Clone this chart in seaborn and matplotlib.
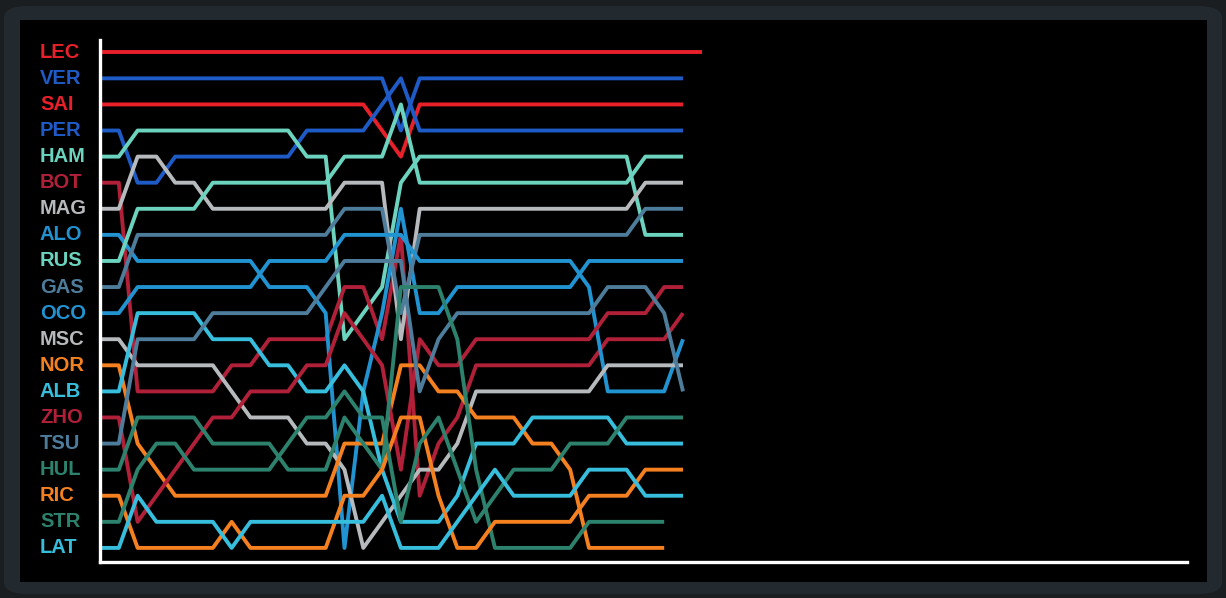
import numpy as np
import pandas as pd
import matplotlib
matplotlib.use('Agg')
import matplotlib.pyplot as plt
import matplotlib.transforms as mtransforms
from matplotlib.patches import FancyBboxPatch, Rectangle
import seaborn as sns

# grid order (start positions) and team colours
drivers = ['LEC', 'VER', 'SAI', 'PER', 'HAM', 'BOT', 'MAG', 'ALO', 'RUS', 'GAS',
           'OCO', 'MSC', 'NOR', 'ALB', 'ZHO', 'TSU', 'HUL', 'RIC', 'STR', 'LAT']
colors = {'LEC': '#E8202A', 'SAI': '#E8202A',
          'VER': '#1E5BC6', 'PER': '#1E5BC6',
          'HAM': '#6CD3BF', 'RUS': '#6CD3BF',
          'BOT': '#B12039', 'ZHO': '#B12039',
          'MAG': '#B6BABD', 'MSC': '#B6BABD',
          'ALO': '#2293D1', 'OCO': '#2293D1',
          'GAS': '#4E7C9B', 'TSU': '#4E7C9B',
          'NOR': '#F58020', 'RIC': '#F58020',
          'ALB': '#37BEDD', 'LAT': '#37BEDD',
          'HUL': '#2D826D', 'STR': '#2D826D'}

# position per lap (lap 0 = grid)
LEC = [1, 1, 1, 1, 1, 1, 1, 1, 1, 1, 1, 1, 1, 1, 1, 1, 1, 1, 1, 1, 1, 1, 1, 1, 1, 1, 1, 1, 1, 1, 1, 1, 1]
VER = [2, 2, 2, 2, 2, 2, 2, 2, 2, 2, 2, 2, 2, 2, 2, 2, 4, 2, 2, 2, 2, 2, 2, 2, 2, 2, 2, 2, 2, 2, 2, 2]
SAI = [3, 3, 3, 3, 3, 3, 3, 3, 3, 3, 3, 3, 3, 3, 3, 4, 5, 3, 3, 3, 3, 3, 3, 3, 3, 3, 3, 3, 3, 3, 3, 3]
PER = [4, 4, 6, 6, 5, 5, 5, 5, 5, 5, 5, 4, 4, 4, 4, 3, 2, 4, 4, 4, 4, 4, 4, 4, 4, 4, 4, 4, 4, 4, 4, 4]
HAM = [5, 5, 4, 4, 4, 4, 4, 4, 4, 4, 4, 5, 5, 12, 11, 10, 6, 5, 5, 5, 5, 5, 5, 5, 5, 5, 5, 5, 5, 8, 8, 8]
BOT = [6, 6, 14, 14, 14, 14, 14, 13, 13, 12, 12, 12, 12, 10, 10, 12, 8, 18, 16, 15, 13, 13, 13, 13, 13, 13, 13, 12, 12, 12, 12, 11]
MAG = [7, 7, 5, 5, 6, 6, 7, 7, 7, 7, 7, 7, 7, 6, 6, 6, 12, 7, 7, 7, 7, 7, 7, 7, 7, 7, 7, 7, 7, 6, 6, 6]
ALO = [8, 8, 9, 9, 9, 9, 9, 9, 9, 10, 10, 10, 11, 20, 14, 11, 7, 11, 11, 10, 10, 10, 10, 10, 10, 10, 9, 9, 9, 9, 9, 9]
RUS = [9, 9, 7, 7, 7, 7, 6, 6, 6, 6, 6, 6, 6, 5, 5, 5, 3, 6, 6, 6, 6, 6, 6, 6, 6, 6, 6, 6, 6, 5, 5, 5]
GAS = [10, 10, 8, 8, 8, 8, 8, 8, 8, 8, 8, 8, 8, 7, 7, 7, 11, 8, 8, 8, 8, 8, 8, 8, 8, 8, 8, 8, 8, 7, 7, 7]
OCO = [11, 11, 10, 10, 10, 10, 10, 10, 10, 9, 9, 9, 9, 8, 8, 8, 8, 9, 9, 9, 9, 9, 9, 9, 9, 9, 10, 14, 14, 14, 14, 12]
MSC = [12, 12, 13, 13, 13, 13, 13, 14, 15, 15, 15, 16, 16, 17, 20, 19, 18, 17, 17, 16, 14, 14, 14, 14, 14, 14, 14, 13, 13, 13, 13, 13]
NOR = [13, 13, 16, 17, 18, 18, 18, 18, 18, 18, 18, 18, 18, 16, 16, 16, 13, 13, 14, 14, 15, 15, 15, 16, 16, 17, 20, 20, 20, 20, 20]
ALB = [14, 14, 11, 11, 11, 11, 12, 12, 12, 13, 13, 14, 14, 13, 14, 17, 19, 19, 19, 18, 16, 16, 16, 15, 15, 15, 15, 15, 16, 16, 16, 16]
ZHO = [15, 15, 19, 18, 17, 16, 15, 15, 14, 14, 14, 13, 13, 11, 12, 13, 17, 12, 13, 13, 12, 12, 12, 12, 12, 12, 12, 11, 11, 11, 10, 10]
TSU = [16, 16, 12, 12, 12, 12, 11, 11, 11, 11, 11, 11, 10, 9, 9, 9, 9, 14, 12, 11, 11, 11, 11, 11, 11, 11, 11, 10, 10, 10, 11, 14]
HUL = [17, 17, 15, 15, 15, 15, 16, 16, 16, 16, 17, 17, 17, 15, 16, 17, 10, 10, 10, 12, 17, 20, 20, 20, 20, 20, 19, 19, 19, 19, 19]
RIC = [18, 18, 20, 20, 20, 20, 20, 19, 20, 20, 20, 20, 20, 18, 18, 17, 15, 15, 18, 20, 20, 19, 19, 19, 19, 19, 18, 18, 18, 17, 17, 17]
STR = [19, 19, 17, 16, 16, 17, 17, 17, 17, 17, 16, 15, 15, 14, 15, 15, 19, 16, 15, 17, 19, 18, 17, 17, 17, 16, 16, 16, 15, 15, 15, 15]
LAT = [20, 20, 18, 19, 19, 19, 19, 20, 19, 19, 19, 19, 19, 19, 19, 18, 20, 20, 20, 19, 18, 17, 18, 18, 18, 18, 17, 17, 17, 18, 18, 18]

series = {'LEC': LEC, 'VER': VER, 'SAI': SAI, 'PER': PER, 'HAM': HAM, 'BOT': BOT,
          'MAG': MAG, 'ALO': ALO, 'RUS': RUS, 'GAS': GAS, 'OCO': OCO, 'MSC': MSC,
          'NOR': NOR, 'ALB': ALB, 'ZHO': ZHO, 'TSU': TSU, 'HUL': HUL, 'RIC': RIC,
          'STR': STR, 'LAT': LAT}

rows = []
for d in drivers:
    for lap, pos in enumerate(series[d]):
        rows.append((d, lap, pos))
df = pd.DataFrame(rows, columns=['driver', 'lap', 'position'])

sns.set_theme(style='dark')
plt.rcParams['font.family'] = ['Liberation Sans', 'DejaVu Sans']

W, H = 1226, 598
fig = plt.figure(figsize=(W / 100, H / 100), dpi=100, facecolor='#1a1e21')

# rounded frame and black panel, kept below the axes
fig.patches.append(FancyBboxPatch((4 / W, 4 / H), 1218 / W, 588 / H,
                                  boxstyle='round,pad=0,rounding_size=0.02',
                                  transform=fig.transFigure, facecolor='#222a30',
                                  edgecolor='none', zorder=-2))
fig.patches.append(Rectangle((20 / W, 16 / H), 1187 / W, 562 / H,
                             transform=fig.transFigure, facecolor='black',
                             edgecolor='none', zorder=-1))

ax = fig.add_axes([100 / W, 36 / H, 1087 / W, 522 / H])
ax.set_zorder(5)
ax.patch.set_alpha(0)

sns.lineplot(data=df, x='lap', y='position', hue='driver', hue_order=drivers,
             palette=colors, linewidth=2.8, legend=False, sort=False,
             estimator=None, ax=ax)
for line in ax.get_lines():
    line.set_solid_joinstyle('round')
    line.set_solid_capstyle('butt')

ax.set_xlim(0, 57.8)
ax.set_ylim(20.54, 0.53)
ax.set_xticks([])
ax.set_yticks([])
ax.set_xlabel('')
ax.set_ylabel('')
ax.grid(False)
for side in ['top', 'right']:
    ax.spines[side].set_visible(False)
for side in ['left', 'bottom']:
    ax.spines[side].set_visible(True)
    ax.spines[side].set_color('white')
    ax.spines[side].set_linewidth(2.4)

# driver codes at grid positions
trans = mtransforms.blended_transform_factory(fig.transFigure, ax.transData)
for d in drivers:
    ax.text(40 / W, series[d][0], d, transform=trans, ha='left', va='center',
            color=colors[d], fontsize=14.5, fontweight='heavy',
            family=['Liberation Sans', 'DejaVu Sans'], clip_on=False)

fig.savefig('out.png', dpi=100, facecolor=fig.get_facecolor())
